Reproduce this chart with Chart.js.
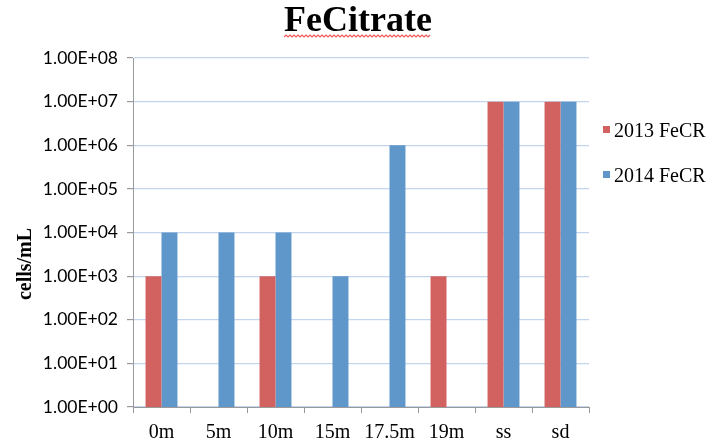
<!DOCTYPE html>
<html>
<head>
<meta charset="utf-8">
<script src="https://cdn.jsdelivr.net/npm/chart.js@4.4.1/dist/chart.umd.min.js"></script>
<style>
html,body{margin:0;padding:0;background:#fff;}
#wrap{width:711px;height:445px;position:relative;}
</style>
</head>
<body>
<div id="wrap"><canvas id="c" width="711" height="445"></canvas></div>
<script>
const categories = ['0m','5m','10m','15m','17.5m','19m','ss','sd'];
const series2013 = [1000, null, 1000, null, null, 1000, 10000000, 10000000];
const series2014 = [10000, 10000, 10000, 1000, 1000000, null, 10000000, 10000000];
const seriesNames = ['2013 FeCR', '2014 FeCR'];
const yTickValues = [1, 10, 100, 1000, 10000, 100000, 1000000, 10000000, 100000000];
const chartTitle = 'FeCitrate';
const yAxisTitle = 'cells/mL';

const RED = '#d2625f';
const BLUE = '#5f97cb';

function sci(v){
  const e = Math.round(Math.log10(v));
  return '1.00E+' + (e < 10 ? '0' + e : '' + e);
}

const extras = {
  id: 'extras',
  afterDraw(chart){
    const ctx = chart.ctx;
    ctx.save();
    // title
    ctx.fillStyle = '#000';
    ctx.font = 'bold 36px "Liberation Serif"';
    ctx.textAlign = 'center';
    ctx.textBaseline = 'alphabetic';
    ctx.fillText(chartTitle, 358, 31);
    const tw = ctx.measureText(chartTitle).width;
    // wavy spell-check underline under title
    ctx.strokeStyle = '#ee5a5a';
    ctx.lineWidth = 1.2;
    ctx.beginPath();
    let x0 = 358 - tw/2, x1 = 358 + tw/2, y = 37;
    ctx.moveTo(x0, y);
    let up = true;
    for (let x = x0 + 2; x <= x1; x += 2){
      ctx.lineTo(x, up ? y - 2 : y);
      up = !up;
    }
    ctx.stroke();
    // y axis title
    ctx.fillStyle = '#000';
    ctx.font = 'bold 20px "Liberation Serif"';
    ctx.textAlign = 'center';
    ctx.textBaseline = 'middle';
    ctx.translate(26, 264);
    ctx.rotate(-Math.PI/2);
    ctx.fillText(yAxisTitle, 0, 0);
    ctx.restore();
    // legend
    ctx.save();
    const items = chart.data.datasets;
    const ys = [131, 176];
    ctx.font = '20px "Liberation Serif"';
    ctx.textAlign = 'left';
    ctx.textBaseline = 'middle';
    items.forEach((ds, i) => {
      ctx.fillStyle = ds.backgroundColor;
      ctx.fillRect(603, ys[i] - 5, 7, 7);
      ctx.fillStyle = '#000';
      ctx.fillText(ds.label, 614, ys[i] + 1);
    });
    ctx.restore();
  }
};

new Chart(document.getElementById('c'), {
  type: 'bar',
  data: {
    labels: categories,
    datasets: [
      {label: seriesNames[0], data: series2013, backgroundColor: RED, categoryPercentage: 0.56, barPercentage: 1.0},
      {label: seriesNames[1], data: series2014, backgroundColor: BLUE, categoryPercentage: 0.56, barPercentage: 1.0}
    ]
  },
  options: {
    responsive: false,
    animation: false,
    devicePixelRatio: 1,
    layout: {padding: {left: 0, right: 122, top: 58, bottom: 0}},
    plugins: {
      legend: {display: false},
      tooltip: {enabled: false},
      title: {display: false}
    },
    scales: {
      x: {
        grid: {display: true, drawOnChartArea: false, color: '#9a9a9a', tickLength: 6, offset: true},
        border: {color: '#9a9a9a', width: 1},
        ticks: {color: '#000', font: {family: '"Liberation Serif"', size: 20}, padding: 8, maxRotation: 0, autoSkip: false},
        afterFit(s){ s.height = 38; }
      },
      y: {
        type: 'logarithmic',
        min: 1,
        max: 100000000,
        grid: {color: '#c3d5ee', tickColor: '#9a9a9a', tickLength: 6, lineWidth: 1.2},
        border: {color: '#9a9a9a', width: 1},
        ticks: {
          color: '#000',
          font: {family: 'Lato', size: 17.5},
          padding: 9,
          autoSkip: false,
          callback: (v) => sci(v)
        },
        afterBuildTicks(s){ s.ticks = yTickValues.map(v => ({value: v})); },
        afterFit(s){ s.width = 133; }
      }
    }
  },
  plugins: [extras]
});
</script>
</body>
</html>
